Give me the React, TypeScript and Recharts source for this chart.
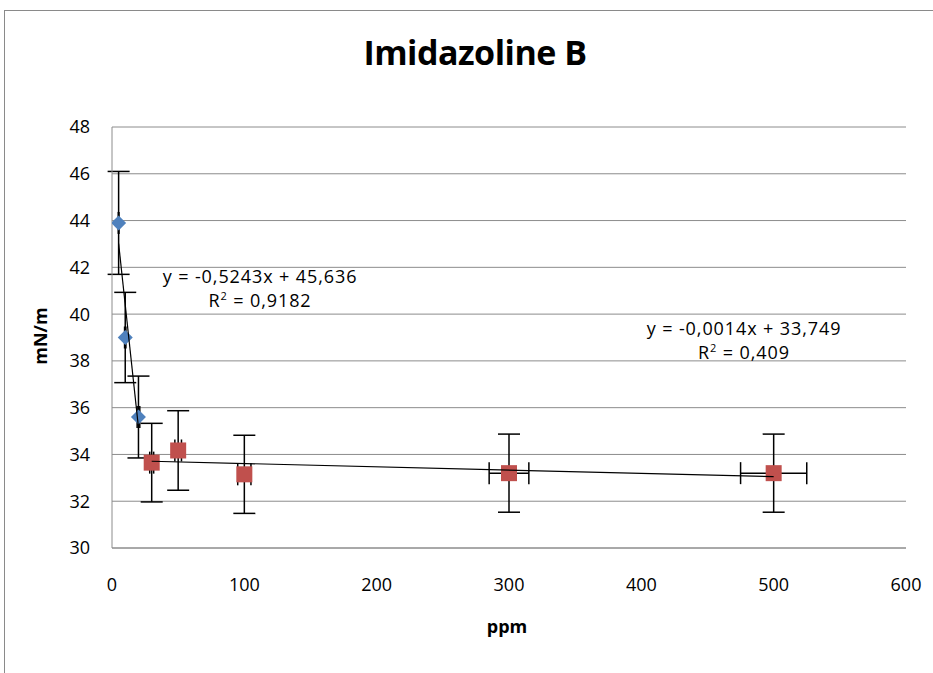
import React from 'react';
import { ScatterChart, Scatter, XAxis, YAxis, CartesianGrid, ErrorBar } from 'recharts';

const blueX = [5, 10, 20];
const blueY = [43.9, 39.0, 35.6];
const blueErrY = [2.2, 1.93, 1.75];
const blueErrX = [0.25, 0.5, 1];

const redX = [30, 50, 100, 300, 500];
const redY = [33.65, 34.17, 33.15, 33.2, 33.2];
const redErrY = [1.68, 1.7, 1.67, 1.67, 1.67];
const redErrX = [1.5, 2.5, 5, 15, 25];

const blueTrendX = [5, 20];
const blueTrendY = [43.02, 35.15];
const redTrendX = [30, 500];
const redTrendY = [33.71, 33.05];

const xTicks = [0, 100, 200, 300, 400, 500, 600];
const yTicks = [30, 32, 34, 36, 38, 40, 42, 44, 46, 48];

const blueData = blueX.map((x, i) => ({ x, y: blueY[i], ey: blueErrY[i], ex: blueErrX[i] }));
const redData = redX.map((x, i) => ({ x, y: redY[i], ey: redErrY[i], ex: redErrX[i] }));
const blueTrend = blueTrendX.map((x, i) => ({ x, y: blueTrendY[i] }));
const redTrend = redTrendX.map((x, i) => ({ x, y: redTrendY[i] }));

const FONT = "'Open Sans', sans-serif";

const Diamond = (p: any) => {
  const { cx, cy } = p;
  const r = 7.5;
  return <polygon points={`${cx},${cy - r} ${cx + r},${cy} ${cx},${cy + r} ${cx - r},${cy}`} fill="#4F81BD" />;
};
const Square = (p: any) => {
  const { cx, cy } = p;
  const s = 8;
  return <rect x={cx - s} y={cy - s} width={2 * s} height={2 * s} fill="#C0504D" />;
};
const NoShape = () => <g />;

const eqStyle: React.CSSProperties = {
  position: 'absolute', width: 240, textAlign: 'center', fontSize: 18, color: '#000',
  lineHeight: '24px', letterSpacing: 0.9, whiteSpace: 'nowrap', zIndex: 3,
};
const supStyle: React.CSSProperties = { fontSize: 11, verticalAlign: 'top', lineHeight: '16px' };

export default function App() {
  return (
    <div style={{ position: 'absolute', left: 0, top: 0, width: 933, height: 673, overflow: 'hidden', background: '#fff', fontFamily: FONT }}>
      <div style={{ position: 'absolute', left: 4, top: 10, width: 960, height: 700, border: '1px solid #8a8a8a', boxSizing: 'border-box' }} />
      {/* base chart: grid, axes, error bars */}
      <div style={{ position: 'absolute', left: 0, top: 0, zIndex: 1 }}>
        <ScatterChart width={933} height={673} margin={{ top: 127, right: 27, bottom: 0, left: 0 }}>
          <CartesianGrid vertical={false} stroke="#8c8c8c" strokeWidth={1} />
          <XAxis
            type="number"
            dataKey="x"
            domain={[0, 600]}
            ticks={xTicks}
            height={125}
            tickLine={false}
            tickSize={0}
            tickMargin={30}
            axisLine={{ stroke: '#8c8c8c' }}
            tick={{ fill: '#000', fontSize: 18, fontFamily: FONT }}
            allowDataOverflow
          />
          <YAxis
            type="number"
            dataKey="y"
            domain={[30, 48]}
            ticks={yTicks}
            width={112}
            tickLine={false}
            tickSize={0}
            tickMargin={22}
            axisLine={{ stroke: '#8c8c8c' }}
            tick={{ fill: '#000', fontSize: 18, fontFamily: FONT }}
            allowDataOverflow
          />
          <Scatter data={blueData} shape={NoShape} isAnimationActive={false}>
            <ErrorBar dataKey="ey" direction="y" width={11} stroke="#000" strokeWidth={1.5} />
            <ErrorBar dataKey="ex" direction="x" width={11} stroke="#000" strokeWidth={1.5} />
          </Scatter>
          <Scatter data={redData} shape={NoShape} isAnimationActive={false}>
            <ErrorBar dataKey="ey" direction="y" width={11} stroke="#000" strokeWidth={1.5} />
            <ErrorBar dataKey="ex" direction="x" width={11} stroke="#000" strokeWidth={1.5} />
          </Scatter>
        </ScatterChart>
      </div>
      {/* overlay chart: markers and trend lines above the error bars */}
      <div style={{ position: 'absolute', left: 0, top: 0, zIndex: 2 }}>
        <ScatterChart width={933} height={673} margin={{ top: 127, right: 27, bottom: 125, left: 112 }}>
          <XAxis type="number" dataKey="x" domain={[0, 600]} ticks={xTicks} hide allowDataOverflow />
          <YAxis type="number" dataKey="y" domain={[30, 48]} ticks={yTicks} hide allowDataOverflow />
          <Scatter data={blueData} shape={Diamond} isAnimationActive={false} />
          <Scatter data={redData} shape={Square} isAnimationActive={false} />
          <Scatter data={blueTrend} shape={NoShape} line={{ stroke: '#000', strokeWidth: 1.2 }} lineType="joint" isAnimationActive={false} />
          <Scatter data={redTrend} shape={NoShape} line={{ stroke: '#000', strokeWidth: 1.2 }} lineType="joint" isAnimationActive={false} />
        </ScatterChart>
      </div>
      <div style={{ position: 'absolute', zIndex: 3, left: 0, width: 950, top: 32, textAlign: 'center', fontSize: 34, fontWeight: 'bold', color: '#000', lineHeight: '40px', letterSpacing: -0.5 }}>Imidazoline B</div>
      <div style={{ position: 'absolute', zIndex: 3, left: 407, width: 200, top: 614, textAlign: 'center', fontSize: 18, fontWeight: 'bold', color: '#000', lineHeight: '24px' }}>ppm</div>
      <div style={{ position: 'absolute', zIndex: 3, left: -60, width: 200, top: 324, textAlign: 'center', fontSize: 18, fontWeight: 'bold', color: '#000', lineHeight: '24px', transform: 'rotate(-90deg)' }}>mN/m</div>
      <div style={{ ...eqStyle, left: 140, top: 264 }}>
        y = -0,5243x + 45,636<br />R<sup style={supStyle}>2</sup> = 0,9182
      </div>
      <div style={{ ...eqStyle, left: 624, top: 316 }}>
        y = -0,0014x + 33,749<br />R<sup style={supStyle}>2</sup> = 0,409
      </div>
    </div>
  );
}
